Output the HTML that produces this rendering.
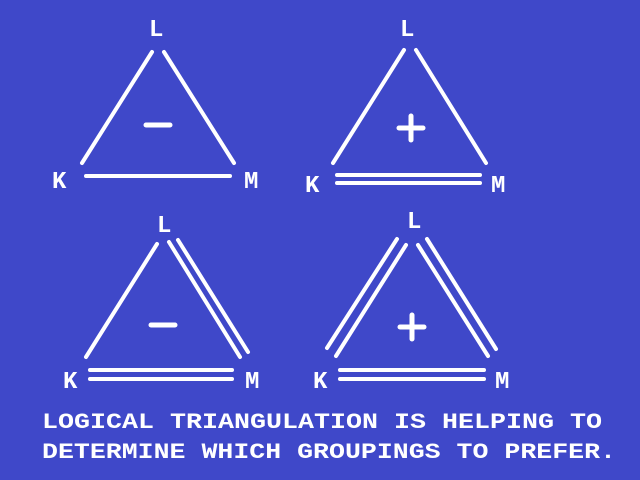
<!DOCTYPE html>
<html><head><meta charset="utf-8"><style>
html,body{margin:0;padding:0;background:#3f48c9;}
svg{display:block}
text{font-family:"Liberation Mono",monospace;font-weight:bold;fill:#fff}
</style></head><body>
<svg width="640" height="480" viewBox="0 0 640 480">
<rect width="640" height="480" fill="#3f48c9"/>
<g stroke="#fff" stroke-width="4" stroke-linecap="round" fill="none">
 <line x1="152" y1="52" x2="82" y2="163"/><line x1="164" y1="52" x2="234" y2="163"/>
 <line x1="86" y1="176" x2="230" y2="176"/>
 <line x1="404" y1="50" x2="333" y2="163"/><line x1="416" y1="50" x2="486" y2="163"/>
 <line x1="337" y1="175" x2="480" y2="175"/><line x1="337" y1="183" x2="480" y2="183"/>
 <line x1="157" y1="244" x2="86" y2="357"/>
 <line x1="169" y1="242" x2="240" y2="357"/><line x1="178" y1="240" x2="248" y2="352"/>
 <line x1="90" y1="370" x2="232" y2="370"/><line x1="90" y1="379" x2="232" y2="379"/>
 <line x1="397" y1="239" x2="327" y2="348"/><line x1="406" y1="245" x2="336" y2="356"/>
 <line x1="418" y1="245" x2="488" y2="356"/><line x1="427" y1="239" x2="496" y2="349"/>
 <line x1="340" y1="370" x2="484" y2="370"/><line x1="340" y1="379" x2="484" y2="379"/>
</g>
<g stroke="#fff" stroke-width="5" stroke-linecap="round" fill="none">
 <line x1="146" y1="125" x2="170" y2="125"/>
 <line x1="399" y1="128" x2="423" y2="128"/><line x1="411" y1="116" x2="411" y2="140"/>
 <line x1="151" y1="325" x2="175" y2="325"/>
 <line x1="400" y1="327" x2="424" y2="327"/><line x1="412" y1="315" x2="412" y2="339"/>
</g>
<g font-size="24">
 <text x="149" y="36">L</text><text x="52" y="188">K</text><text x="244" y="188">M</text>
 <text x="400" y="36">L</text><text x="305" y="192">K</text><text x="491" y="192">M</text>
 <text x="157" y="232">L</text><text x="63" y="388">K</text><text x="245" y="388">M</text>
 <text x="407" y="228">L</text><text x="313" y="388">K</text><text x="495" y="388">M</text>
</g>
<text x="42" y="428" font-size="22" textLength="560" lengthAdjust="spacingAndGlyphs">LOGICAL TRIANGULATION IS HELPING TO</text>
<text x="42" y="458" font-size="22" textLength="574" lengthAdjust="spacingAndGlyphs">DETERMINE WHICH GROUPINGS TO PREFER.</text>
</svg>
</body></html>
